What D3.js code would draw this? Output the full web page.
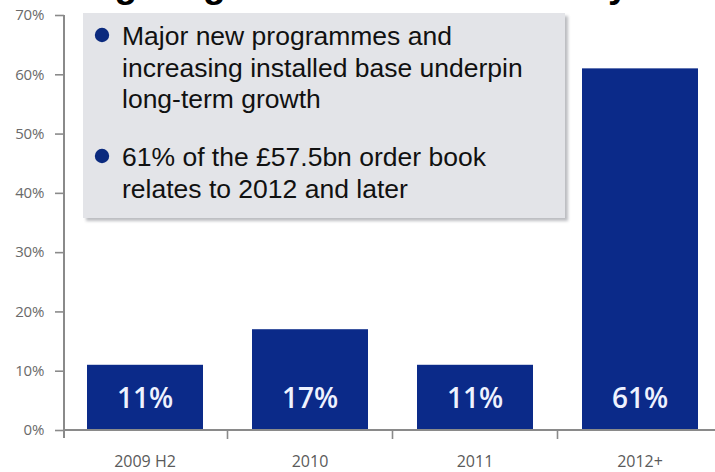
<!DOCTYPE html>
<html>
<head>
<meta charset="utf-8">
<script src="https://cdn.jsdelivr.net/npm/d3@7"></script>
<style>
  html, body { margin: 0; padding: 0; background: #ffffff; }
  svg { display: block; }
</style>
</head>
<body>
<svg id="chart" width="715" height="472"></svg>
<script>
// Order book phasing by year of delivery
const categories = ["2009 H2", "2010", "2011", "2012+"];
const shares = [11, 17, 11, 61];
const yTicks = [0, 10, 20, 30, 40, 50, 60, 70];
const headline = "Strong long-term revenue visibility";
const bullets = [
  ["Major new programmes and", "increasing installed base underpin", "long-term growth"],
  ["61% of the £57.5bn order book", "relates to 2012 and later"]
];

const svg = d3.select("#chart");
const W = 715, H = 472;

const axisX = 64, baseY = 430, topY = 15;

const y = d3.scaleLinear().domain([0, 70]).range([baseY, topY]);
const x = d3.scaleBand()
  .domain(categories)
  .range([62.5, 722.5])
  .paddingInner(0.297)
  .paddingOuter(0.1485);

const axisColor = "#8a8a8a";

// headline, running above the top edge of the slide area
svg.append("text")
  .attr("x", 18).attr("y", -3)
  .attr("font-family", "Liberation Sans, Arial, sans-serif")
  .attr("font-weight", "bold")
  .attr("font-size", 37)
  .attr("fill", "#000")
  .text(headline);

// bars
svg.append("g").selectAll("rect")
  .data(shares)
  .join("rect")
  .attr("x", (d, i) => x(categories[i]))
  .attr("width", x.bandwidth())
  .attr("y", d => y(d))
  .attr("height", d => y(0) - y(d))
  .attr("fill", "#0b2a89");

// value labels inside bars
svg.append("g").selectAll("text")
  .data(shares)
  .join("text")
  .attr("x", (d, i) => x(categories[i]) + x.bandwidth() / 2)
  .attr("y", y(0) - 22)
  .attr("text-anchor", "middle")
  .attr("font-family", "Open Sans, sans-serif")
  .attr("font-weight", 600)
  .attr("font-size", 28)
  .attr("fill", "#eef2ff")
  .text(d => d + "%");

// y axis
const yAxis = d3.axisLeft(y)
  .tickValues(yTicks)
  .tickFormat(d => d + "%")
  .tickSize(9)
  .tickPadding(11);

const gy = svg.append("g")
  .attr("transform", `translate(${axisX},0)`)
  .call(yAxis);
gy.select(".domain").remove();
gy.selectAll(".tick line").attr("stroke", axisColor).attr("stroke-width", 1.6);
gy.selectAll(".tick text")
  .attr("font-family", "Open Sans, sans-serif")
  .attr("font-size", 15)
  .attr("letter-spacing", -0.3)
  .attr("fill", "#6a6a6a");
gy.append("line")
  .attr("x1", 0).attr("x2", 0)
  .attr("y1", topY).attr("y2", baseY + 8)
  .attr("stroke", axisColor).attr("stroke-width", 2);

// x axis: baseline with ticks between categories
const boundaries = categories.slice(1).map(c => x(c) - x.step() * x.paddingInner() / 2);
const gx = svg.append("g");
gx.append("line")
  .attr("x1", axisX).attr("x2", W)
  .attr("y1", baseY).attr("y2", baseY)
  .attr("stroke", axisColor).attr("stroke-width", 2);
gx.selectAll("line.tick")
  .data(boundaries)
  .join("line")
  .attr("class", "tick")
  .attr("x1", d => d).attr("x2", d => d)
  .attr("y1", baseY).attr("y2", baseY + 9)
  .attr("stroke", axisColor).attr("stroke-width", 1.6);
gx.selectAll("text")
  .data(categories)
  .join("text")
  .attr("x", d => x(d) + x.bandwidth() / 2)
  .attr("y", 467)
  .attr("text-anchor", "middle")
  .attr("font-family", "Open Sans, sans-serif")
  .attr("font-size", 16)
  .attr("fill", "#5a5a5a")
  .text(d => d);

// commentary panel with a soft drop shadow
const box = { x: 83, y: 13, w: 482, h: 205 };
const defs = svg.append("defs");
defs.append("filter").attr("id", "soft")
  .attr("x", "-5%").attr("y", "-5%").attr("width", "110%").attr("height", "115%")
  .append("feGaussianBlur").attr("stdDeviation", 1.6);

svg.append("rect")
  .attr("x", box.x + 3).attr("y", box.y + 3)
  .attr("width", box.w).attr("height", box.h)
  .attr("fill", "#bcbdc1")
  .attr("filter", "url(#soft)");
svg.append("rect")
  .attr("x", box.x).attr("y", box.y)
  .attr("width", box.w).attr("height", box.h)
  .attr("fill", "#e3e4e8");

const lineH = 31.5;
const paraStart = [45, 166];
const panel = svg.append("g")
  .attr("font-family", "Liberation Sans, Arial, sans-serif")
  .attr("font-size", 26.5)
  .attr("fill", "#111");

bullets.forEach((lines, p) => {
  panel.append("circle")
    .attr("cx", 102).attr("cy", paraStart[p] - 10)
    .attr("r", 7.2)
    .attr("fill", "#0b2a7e");
  lines.forEach((t, k) => {
    panel.append("text")
      .attr("x", 122)
      .attr("y", paraStart[p] + k * lineH)
      .text(t);
  });
});
</script>
</body>
</html>
